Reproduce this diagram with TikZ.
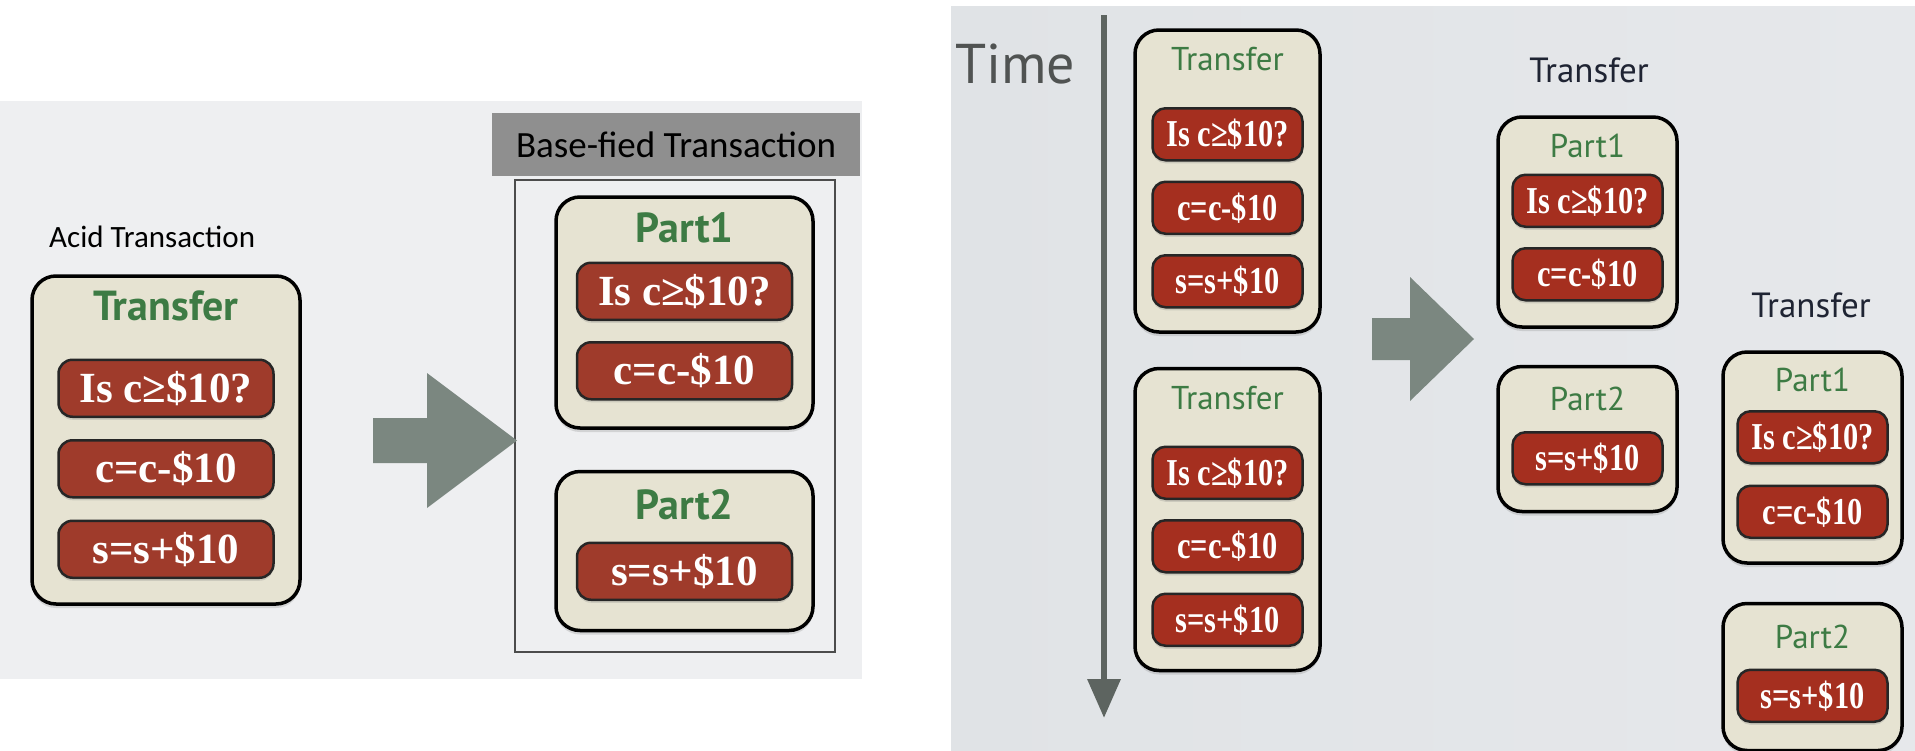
\documentclass[tikz,border=0pt]{standalone}
\usepackage{fontspec}
\setmainfont{Liberation Serif}
\newfontfamily\gillsub{PT Sans}
\newfontfamily\calsub{Carlito}
\newfontfamily\narrowserif[FakeStretch=0.8]{Liberation Serif}
\usepackage{tikz}
\usetikzlibrary{arrows.meta,positioning,calc,shadows}
\definecolor{opred}{HTML}{9F3B2B}
\definecolor{opredR}{HTML}{A52F1F}
\definecolor{boxbeige}{HTML}{E6E3D2}
\definecolor{ttlgreen}{HTML}{3D7B44}
\definecolor{arrgray}{HTML}{7B8780}
\definecolor{hdrgray}{HTML}{8F8F8F}
\definecolor{navytxt}{HTML}{1F2433}
\definecolor{timegray}{HTML}{505352}
\definecolor{linegray}{HTML}{5D6460}
\definecolor{panelL}{HTML}{EEEFF1}
\definecolor{panelRa}{HTML}{E0E3E6}
\definecolor{panelRb}{HTML}{EDEFF1}
\definecolor{panelRc}{HTML}{E6E8EB}

\begin{document}
\begin{tikzpicture}[
    x=1pt,y=-1pt,
    txbox/.style={draw=black,line width=3.5pt,fill=boxbeige,rounded corners=24pt,inner sep=0pt,
      drop shadow={shadow xshift=0pt,shadow yshift=-4pt,opacity=0.25}},
    opbox/.style={draw=black!85,line width=2.5pt,fill=opred,rounded corners=14pt,inner sep=0pt,
      text=white,minimum width=215pt,minimum height=57pt,
      font=\fontsize{43}{43}\selectfont\bfseries,
      drop shadow={shadow xshift=0pt,shadow yshift=-3pt,opacity=0.25}},
    opboxs/.style={opbox,fill=opredR,rounded corners=13pt,minimum width=150pt,minimum height=52pt,
      font=\narrowserif\fontsize{38}{38}\selectfont\bfseries},
    ttlbig/.style={text=ttlgreen,inner sep=0pt,font=\gillsub\fontsize{42}{42}\selectfont\bfseries},
    ttlsmall/.style={text=ttlgreen,inner sep=0pt,font=\gillsub\fontsize{33}{33}\selectfont},
    navylbl/.style={text=navytxt,inner sep=0pt,font=\gillsub\fontsize{35}{35}\selectfont},
    frame/.style={draw=black!70,line width=1.5pt,inner sep=0pt},
    hdrbox/.style={fill=hdrgray,inner sep=0pt,font=\calsub\fontsize{37}{37}\selectfont},
    blockarr/.style={fill=arrgray},
    timeline/.style={draw=linegray,line width=6.5pt,-{Triangle[length=39pt,width=32pt]}}
  ]
    \useasboundingbox (0,0) rectangle (1915,750);
    \fill[white] (0,0) rectangle (1915,750);

    % acid vs base-fied
    \fill[panelL] (0,101) rectangle (862,679);
    \node[anchor=west,inner sep=0pt,font=\calsub\fontsize{31}{31}\selectfont] (acidlbl) at (49,237) {Acid Transaction};
    \node[txbox,minimum width=268pt,minimum height=328pt] (acid) at (166,440) {};
    \node[ttlbig] (acidT) at ($(acid.north)+(0,32)$) {Transfer};
    \node[opbox] (acid1) at ($(acid.north)+(0,114)$) {Is c≥\$10?};
    \node[opbox,below=21pt of acid1] (acid2) {c=c-\$10};
    \node[opbox,below=21pt of acid2] (acid3) {s=s+\$10};

    \node[hdrbox,minimum width=368pt,minimum height=63pt] (bhdr) at (676,144.5) {Base-fied Transaction};
    \node[frame,minimum width=320pt,minimum height=472pt] (bframe) at (675,416) {};
    \node[txbox,minimum width=257pt,minimum height=231pt] (bp1) at (684.5,312.5) {};
    \node[ttlbig] (bp1T) at ($(bp1.north)+(0,33)$) {Part1};
    \node[opbox] (bp1a) at ($(bp1.north)+(0,96)$) {Is c≥\$10?};
    \node[opbox,below=20pt of bp1a] (bp1b) {c=c-\$10};
    \node[txbox,minimum width=257pt,minimum height=159pt,below=40pt of bp1] (bp2) {};
    \node[ttlbig] (bp2T) at ($(bp2.north)+(0,35)$) {Part2};
    \node[opbox] (bp2a) at ($(bp2.north)+(0,101.5)$) {s=s+\$10};

    \fill[blockarr] (373,418) -- (427,418) -- (427,373) -- (517,440.5) -- (427,508) -- (427,463) -- (373,463) -- cycle;

    % time line
    \shade[left color=panelRa,middle color=panelRb,right color=panelRc] (951,6) rectangle (1915,750);
    \node[anchor=base west,inner sep=0pt,text=timegray,font=\gillsub\fontsize{56}{56}\selectfont] (time) at (955,83) {Time};
    \coordinate (ttop) at (1104,15);
    \coordinate (tbot) at (1104,718);
    \draw[timeline] (ttop) -- (tbot);

    \node[txbox,minimum width=185pt,minimum height=302pt] (tr1) at (1227.5,181) {};
    \node[ttlsmall] (tr1T) at ($(tr1.north)+(0,31)$) {Transfer};
    \node[opboxs] (tr1a) at ($(tr1.north)+(0,106)$) {Is c≥\$10?};
    \node[opboxs,below=19pt of tr1a] (tr1b) {c=c-\$10};
    \node[opboxs,below=19pt of tr1b] (tr1c) {s=s+\$10};

    \node[txbox,minimum width=185pt,minimum height=302pt,below=33pt of tr1] (tr2) {};
    \node[ttlsmall] (tr2T) at ($(tr2.north)+(0,31)$) {Transfer};
    \node[opboxs] (tr2a) at ($(tr2.north)+(0,106)$) {Is c≥\$10?};
    \node[opboxs,below=19pt of tr2a] (tr2b) {c=c-\$10};
    \node[opboxs,below=19pt of tr2b] (tr2c) {s=s+\$10};

    \fill[blockarr] (1372,318) -- (1410,318) -- (1410,277) -- (1474,339) -- (1410,401) -- (1410,360) -- (1372,360) -- cycle;

    \node[navylbl] (split1) at (1589,70) {Transfer};
    \node[txbox,minimum width=179pt,minimum height=210pt] (p1b) at (1587.5,222) {};
    \node[ttlsmall] (p1bT) at ($(p1b.north)+(0,31)$) {Part1};
    \node[opboxs] (p1ba) at ($(p1b.north)+(0,85.5)$) {Is c≥\$10?};
    \node[opboxs,below=19pt of p1ba] (p1bb) {c=c-\$10};
    \node[txbox,minimum width=179pt,minimum height=145pt,below=36pt of p1b] (p2b) {};
    \node[ttlsmall] (p2bT) at ($(p2b.north)+(0,34)$) {Part2};
    \node[opboxs] (p2ba) at ($(p2b.north)+(0,93.5)$) {s=s+\$10};

    \node[navylbl] (split2) at (1811,305) {Transfer};
    \node[txbox,minimum width=179pt,minimum height=211pt] (p1c) at (1812.5,457.5) {};
    \node[ttlsmall] (p1cT) at ($(p1c.north)+(0,30)$) {Part1};
    \node[opboxs] (p1ca) at ($(p1c.north)+(0,87)$) {Is c≥\$10?};
    \node[opboxs,below=20pt of p1ca] (p1cb) {c=c-\$10};
    \node[txbox,minimum width=179pt,minimum height=147pt,below=37pt of p1c] (p2c) {};
    \node[ttlsmall] (p2cT) at ($(p2c.north)+(0,35)$) {Part2};
    \node[opboxs] (p2ca) at ($(p2c.north)+(0,94)$) {s=s+\$10};
  \end{tikzpicture}
\end{document}
